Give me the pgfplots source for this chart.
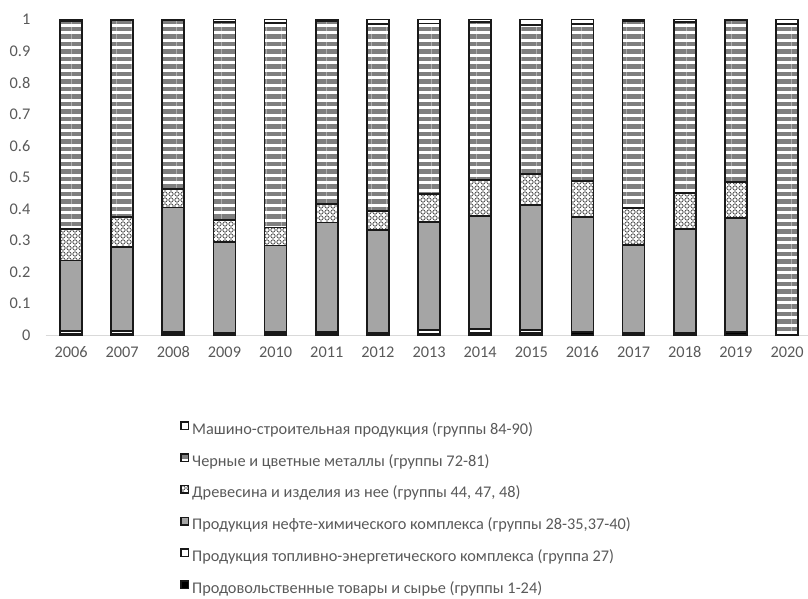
\documentclass[border=0pt]{standalone}
\usepackage{fontspec}
\setmainfont{Carlito}
\usepackage{pgfplots}
\usepackage{pgfplotstable}
\pgfplotsset{compat=1.18}
\usetikzlibrary{patterns,patterns.meta}

\definecolor{txt}{HTML}{595959}
\definecolor{petro}{HTML}{A5A5A5}
\definecolor{stripe}{HTML}{7F7F7F}

% small rings for the wood series
\tikzdeclarepattern{
  name=rings,
  type=uncolored,
  bottom left={(-0.1bp,-0.1bp)},
  top right={(6.1bp,6.1bp)},
  tile size={(6bp,6bp)},
  code={\draw[line width=0.7bp] (3bp,3bp) circle[radius=2.2bp];}
}

% shares by year, 0 = 2006 ... 14 = 2020
\pgfplotstableread{
x  food  fuel  petro wood  metals machine
0  0.005 0.008 0.223 0.099 0.661 0.004
1  0.005 0.007 0.266 0.097 0.622 0.003
2  0.007 0.002 0.395 0.058 0.535 0.003
3  0.006 0.002 0.287 0.070 0.627 0.008
4  0.006 0.003 0.275 0.057 0.649 0.010
5  0.006 0.003 0.348 0.059 0.580 0.004
6  0.005 0.002 0.326 0.060 0.592 0.015
7  0.005 0.010 0.344 0.087 0.542 0.012
8  0.006 0.014 0.358 0.113 0.501 0.008
9  0.007 0.008 0.398 0.097 0.472 0.018
10 0.008 0.002 0.364 0.115 0.497 0.014
11 0.007 0.001 0.277 0.118 0.592 0.005
12 0.007 0.001 0.329 0.114 0.542 0.007
13 0.008 0.002 0.360 0.115 0.512 0.003
14 0.000 0.000 0.000 0.000 0.987 0.013
}\shares

\begin{document}
\fontsize{16.3bp}{19bp}\selectfont
\begin{tikzpicture}
\begin{axis}[
    at={(0,0)}, anchor=south west,
    scale only axis,
    width=763bp, height=315.4bp,
    ybar stacked,
    bar width=22bp,
    xmin=-0.5, xmax=14.42,
    ymin=0, ymax=1,
    clip=false,
    axis lines*=left,
    y axis line style={draw=none},
    x axis line style={draw=black!15, line width=1bp, -},
    major tick length=0pt,
    xtick={0,...,14},
    xticklabels={2006,2007,2008,2009,2010,2011,2012,2013,2014,2015,2016,2017,2018,2019,2020},
    ytick={0,0.1,...,1.01},
    yticklabel style={/pgf/number format/fixed, /pgf/number format/precision=1},
    /pgf/number format/assume math mode=true,
    ticklabel style={text=txt, inner sep=0pt},
    yticklabel style={anchor=east, xshift=-15bp},
    xticklabel style={anchor=north, yshift=-12bp, text height=10.5bp, text depth=0pt},
    every axis plot/.append style={draw=black!90, line width=1.7bp},
    reverse legend,
    legend cell align=left,
    legend image code/.code={\draw[#1, line width=1.5bp] (0bp,1bp) rectangle (7.5bp,8.5bp);},
    legend style={at={(0.1763,-0.2727)}, anchor=north west, draw=none, fill=none,
        inner sep=0pt, row sep=15.3bp, column sep=3bp,
        nodes={text=txt, inner sep=0pt, text height=11bp, text depth=3.5bp}},
]
\addplot[fill=black] table[x=x, y=food] {\shares};
\addlegendentry{Продовольственные товары и сырье (группы 1-24)}
\addplot[fill=white] table[x=x, y=fuel] {\shares};
\addlegendentry{Продукция топливно-энергетического комплекса (группа 27)}
\addplot[fill=petro] table[x=x, y=petro] {\shares};
\addlegendentry{Продукция нефте-химического комплекса (группы 28-35,37-40)}
\addplot[fill=white, pattern=rings, pattern color=black!75] table[x=x, y=wood] {\shares};
\addlegendentry{Древесина и изделия из нее (группы 44, 47, 48)}
\addplot[fill=white, pattern={Lines[angle=0, distance=7.5bp, line width=4.3bp]}, pattern color=stripe] table[x=x, y=metals] {\shares};
\addlegendentry{Черные и цветные металлы (группы 72-81)}
\addplot[fill=white] table[x=x, y=machine] {\shares};
\addlegendentry{Машино-строительная продукция (группы 84-90)}
\end{axis}
\pgfresetboundingbox
\path (-45.5bp,-264bp) rectangle (762.5bp,335bp);
\end{tikzpicture}
\end{document}
